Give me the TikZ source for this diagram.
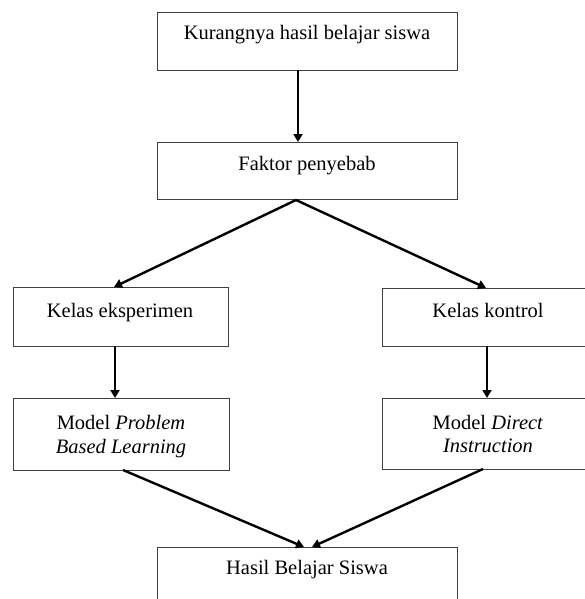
\documentclass[tikz,border=0pt]{standalone}
\usepackage{fontspec}
\setmainfont{Liberation Serif}
\usetikzlibrary{arrows.meta}
\tikzset{
  boxnode/.style={draw=black!75, line width=1.3pt, rectangle, inner sep=0pt, anchor=north west},
  txt/.style={font=\fontsize{20.5}{24}\selectfont, anchor=base, inner sep=0pt},
  conn/.style={line width=2.4pt, -{Triangle[length=8pt,width=9pt]}},
}
\begin{document}
\begin{tikzpicture}[x=1pt,y=-1pt]
\useasboundingbox (0,0) rectangle (585,599);
\clip (0,0) rectangle (585,599);
% boxes
\node[boxnode, minimum width=300pt, minimum height=58pt] (b1) at (157,12) {};
\node[boxnode, minimum width=300pt, minimum height=57pt] (b2) at (157,142) {};
\node[boxnode, minimum width=215pt, minimum height=59pt] (b3) at (13,287) {};
\node[boxnode, minimum width=230pt, minimum height=58pt] (b4) at (382,288) {};
\node[boxnode, minimum width=216pt, minimum height=72pt] (b5) at (13,398) {};
\node[boxnode, minimum width=230pt, minimum height=71pt] (b6) at (382,398) {};
\node[boxnode, minimum width=300pt, minimum height=80pt] (b7) at (157,547) {};
% texts
\node[txt] (t1) at (307,40) {Kurangnya hasil belajar siswa};
\node[txt] (t2) at (307,170) {Faktor penyebab};
\node[txt] (t3) at (120,317) {Kelas eksperimen};
\node[txt] (t4) at (488,317) {Kelas kontrol};
\node[txt] (t5a) at (121,429) {Model \textit{Problem}};
\node[txt] (t5b) at (121,453) {\textit{Based Learning}};
\node[txt] (t6a) at (488,429) {Model \textit{Direct}};
\node[txt] (t6b) at (488,452) {\textit{Instruction}};
\node[txt] (t7) at (307,574) {Hasil Belajar Siswa};
% connector endpoints
\coordinate (s1) at (298,70);  \coordinate (e1) at (298,142);
\coordinate (s2) at (296,200);
\coordinate (e2) at (114,287); \coordinate (e3) at (486,288);
\coordinate (s4) at (115,346); \coordinate (e4) at (115,398);
\coordinate (s5) at (487,346); \coordinate (e5) at (487,398);
\coordinate (s6) at (123,470); \coordinate (e6) at (304,547);
\coordinate (s7) at (483,469); \coordinate (e7) at (312,547);
\draw[conn] (s1) -- (e1);
\draw[conn] (s2) -- (e2);
\draw[conn] (s2) -- (e3);
\draw[conn] (s4) -- (e4);
\draw[conn] (s5) -- (e5);
\draw[conn] (s6) -- (e6);
\draw[conn] (s7) -- (e7);
\end{tikzpicture}
\end{document}
